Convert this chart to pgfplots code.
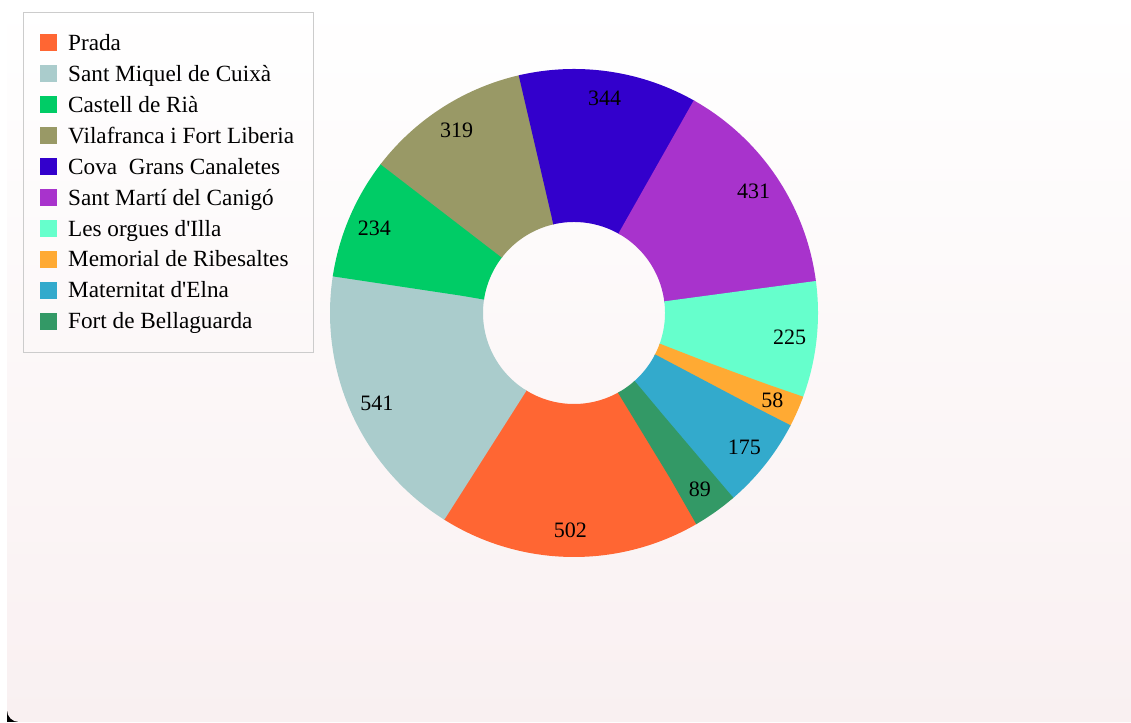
\documentclass[border=0pt]{standalone}
\usepackage{pgfplots}
\pgfplotsset{compat=1.18}
\usepackage{pgfplotstable}
\usepackage{fontspec}
\setmainfont{Liberation Serif}[Ligatures=TeXOff]
\definecolor{c0}{HTML}{FF6633}
\definecolor{c1}{HTML}{AACCCC}
\definecolor{c2}{HTML}{00CC66}
\definecolor{c3}{HTML}{999966}
\definecolor{c4}{HTML}{3300CC}
\definecolor{c5}{HTML}{A833CC}
\definecolor{c6}{HTML}{66FFCC}
\definecolor{c7}{HTML}{FFAA33}
\definecolor{c8}{HTML}{33AACC}
\definecolor{c9}{HTML}{339966}
\definecolor{bgbot}{RGB}{249,240,241}
\definecolor{legborder}{RGB}{204,204,204}
\pgfplotstableread[col sep=comma]{
name,value
Prada,502
Sant Miquel de Cuixà,541
Castell de Rià,234
Vilafranca i Fort Liberia,319
Cova  Grans Canaletes,344
Sant Martí del Canigó,431
Les orgues d'Illa,225
Memorial de Ribesaltes,58
Maternitat d'Elna,175
Fort de Bellaguarda,89
}\data
\newcommand\legfont{\fontsize{23.2}{27}\selectfont}
\newcommand\labfont{\fontsize{22}{26}\selectfont}
\begin{document}
\begin{tikzpicture}
\fill[white] (0,0) rectangle (1131pt,722pt);
\fill[black] (7pt,0pt) rectangle (20pt,14pt);
\shade[top color=white, bottom color=bgbot, rounded corners=12pt]
  (7pt,0pt) -- (7pt,722pt) [sharp corners] -- (1131pt,722pt) -- (1131pt,0pt) [rounded corners=12pt] -- cycle;
\begin{axis}[
  at={(0,0)}, anchor=south west,
  width=1131pt, height=722pt, scale only axis,
  xmin=0, xmax=1131, ymin=0, ymax=722,
  hide axis, clip=false,
  legend image code/.code={\fill[draw=none,#1] (0pt,-8.5pt) rectangle (17pt,8.5pt);},
  legend cell align=left,
  legend style={at={(axis cs:23,710)}, anchor=north west,
    draw=legborder, fill=none, font=\legfont,
    inner xsep=17pt, inner ysep=20pt, row sep=9.3pt,
    /tikz/every odd column/.append style={column sep=9pt}},
]
\pgfplotstablegetrowsof{\data}
\pgfmathtruncatemacro\nrows{\pgfplotsretval-1}
\def\total{0}
\pgfplotsforeachungrouped \i in {0,...,\nrows}{%
  \pgfplotstablegetelem{\i}{value}\of\data
  \pgfmathsetmacro\total{\total+\pgfplotsretval}%
}
\def\cum{0}
\pgfplotsforeachungrouped \i in {0,...,\nrows}{%
  \pgfplotstablegetelem{\i}{value}\of\data
  \let\v\pgfplotsretval
  \pgfmathsetmacro\ext{\i<\nrows ? 0.4 : 0}%
  \pgfmathsetmacro\pre{\i==0 ? 0.4 : 0}%
  \pgfmathsetmacro\aS{-60-\cum/\total*360+\pre}%
  \pgfmathsetmacro\aE{-60-(\cum+\v)/\total*360-\ext}%
  \pgfmathsetmacro\cum{\cum+\v}%
  \edef\temp{\noexpand\addplot[draw=c\i, line width=153pt, domain=\aE:\aS, samples=150, forget plot] ({574+167.5*cos(x)},{409+167.5*sin(x)});}%
  \temp
}
\def\cum{0}
\pgfplotsforeachungrouped \i in {0,...,\nrows}{%
  \pgfplotstablegetelem{\i}{value}\of\data
  \let\v\pgfplotsretval
  \pgfmathsetmacro\aM{-60-(\cum+\v/2)/\total*360}%
  \pgfmathsetmacro\cum{\cum+\v}%
  \pgfmathsetmacro\lx{574+217*cos(\aM)}%
  \pgfmathsetmacro\ly{409+217*sin(\aM)}%
  \pgfmathtruncatemacro\vv{\v}%
  \edef\temp{\noexpand\node[font=\noexpand\labfont, inner sep=0pt] at (axis cs:\lx,\ly) {\vv};}%
  \temp
}
\pgfplotsforeachungrouped \i in {0,...,\nrows}{%
  \edef\temp{\noexpand\addlegendimage{fill=c\i}}%
  \temp
}
\legend{Prada,Sant Miquel de Cuixà,Castell de Rià,Vilafranca i Fort Liberia,Cova\ \ Grans Canaletes,Sant Martí del Canigó,Les orgues d'Illa,Memorial de Ribesaltes,Maternitat d'Elna,Fort de Bellaguarda}
\end{axis}
\end{tikzpicture}
\end{document}
